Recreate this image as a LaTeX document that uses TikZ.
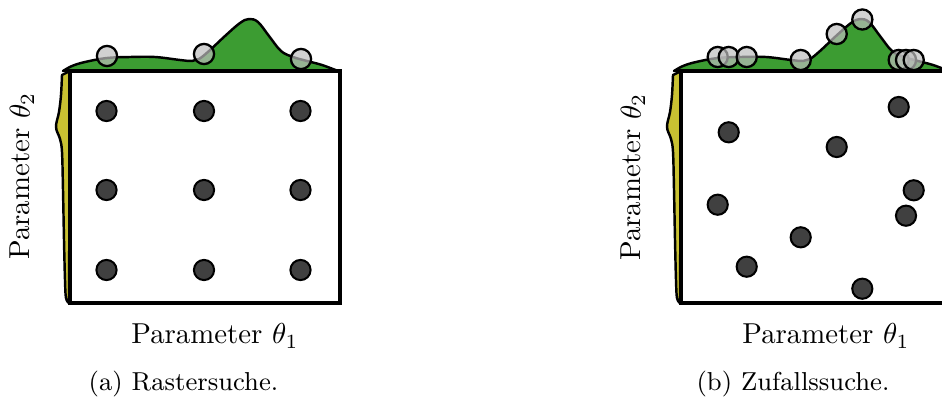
\documentclass[tikz,border=0pt]{standalone}
\usepackage{xcolor}
\definecolor{densgreen}{HTML}{3C9C32}
\definecolor{densyellow}{HTML}{C9C132}
\definecolor{dotgray}{HTML}{404040}
\definecolor{probegray}{HTML}{BDBDBD}
\begin{document}
\begin{tikzpicture}[x=0.347pt,y=-0.347pt,
  density/.style={fill=densgreen, draw=black, line width=0.85pt, line join=round},
  strip/.style={fill=densyellow, draw=black, line width=0.85pt, line join=round},
  frame/.style={draw=black, line width=1.25pt, fill=white},
  sample/.style={circle, fill=dotgray, draw=black, line width=0.7pt, minimum size=7pt, inner sep=0pt},
  probe/.style={circle, fill=probegray, fill opacity=0.7, draw=black, line width=0.8pt, minimum size=7pt, inner sep=0pt},
  lbl/.style={font=\normalsize, inner sep=0pt},
  captext/.style={font=\small, inner sep=0pt}]
\useasboundingbox (0,0) rectangle (942,398);
\clip (0,0) rectangle (942,398);
\foreach \ox in {70,681}{
  \begin{scope}[shift={(\ox,0)}]
    \path[density] plot[smooth, tension=0.6] coordinates {(-7,71) (2,66) (15,62) (37,58) (60,57) (85,57) (110,60) (122,61) (129,59) (139,51) (155,36) (170,23) (179,19) (188,22) (199,36) (211,51) (223,57) (237,61) (252,65) (268,71)} -- cycle;
    \path[strip] (0,71) -- plot[smooth, tension=0.6] coordinates {(-8,75) (-9,95) (-11,112) (-14,127) (-10,139) (-8,152) (-7,190) (-6,240) (-5,280) (-4,298) (-1,303)} -- cycle;
    \draw[frame] (0,71) rectangle (270,303);
  \end{scope}
}
% (a) grid search
\node[sample] (g11) at (106.5,111) {};
\node[sample] (g12) at (204,111) {};
\node[sample] (g13) at (300.5,111) {};
\node[sample] (g21) at (106.5,190) {};
\node[sample] (g22) at (204,190) {};
\node[sample] (g23) at (300.5,190) {};
\node[sample] (g31) at (106.5,270) {};
\node[sample] (g32) at (204,270) {};
\node[sample] (g33) at (300.5,270) {};
\node[probe] (ga) at (107,56) {};
\node[probe] (gb) at (204,54) {};
\node[probe] (gc) at (301,59) {};
% (b) random search
\node[sample] (r1) at (728.7,132.3) {};
\node[sample] (r2) at (898.7,107) {};
\node[sample] (r3) at (836.7,147) {};
\node[sample] (r4) at (717.7,204.7) {};
\node[sample] (r5) at (913.7,190.3) {};
\node[sample] (r6) at (906,215.7) {};
\node[sample] (r7) at (800.7,237.3) {};
\node[sample] (r8) at (746.7,266.7) {};
\node[sample] (r9) at (862.3,288.7) {};
\node[probe] (p1) at (717.7,57) {};
\node[probe] (p2) at (728.7,57) {};
\node[probe] (p3) at (746.7,57) {};
\node[probe] (p4) at (800.7,60) {};
\node[probe] (p5) at (836.7,34) {};
\node[probe] (p6) at (862.3,19.5) {};
\node[probe] (p7) at (898.7,60) {};
\node[probe] (p8) at (906,60) {};
\node[probe] (p9) at (913.7,60) {};
% labels
\node[lbl] (xa) at (215,336) {Parameter $\theta_1$};
\node[lbl, rotate=90] (ya) at (22,176) {Parameter $\theta_2$};
\node[captext] (ca) at (183.5,384) {(a) Rastersuche.};
\node[lbl] (xb) at (826,336) {Parameter $\theta_1$};
\node[lbl, rotate=90] (yb) at (633,177) {Parameter $\theta_2$};
\node[captext] (cb) at (793,384) {(b) Zufallssuche.};
\end{tikzpicture}
\end{document}
